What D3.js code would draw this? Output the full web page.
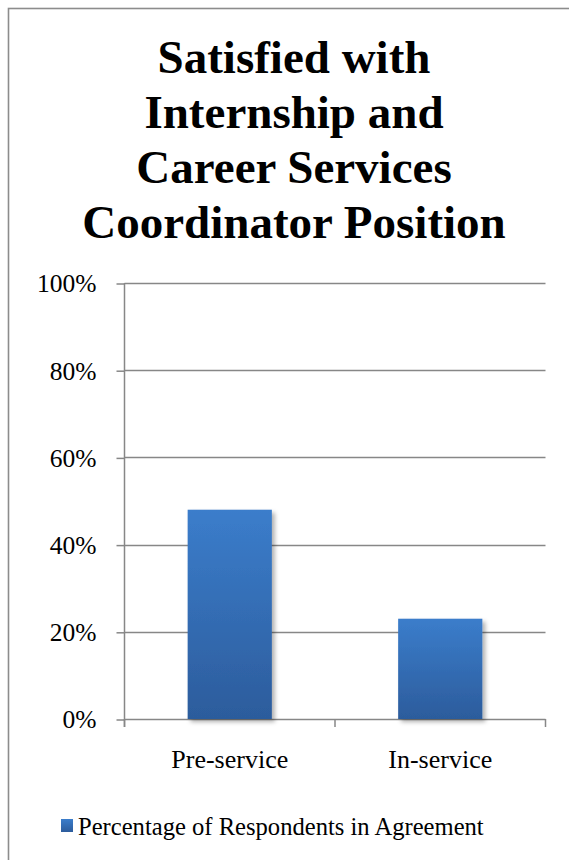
<!DOCTYPE html>
<html>
<head>
<meta charset="utf-8">
<script src="https://cdn.jsdelivr.net/npm/d3@7/dist/d3.min.js"></script>
<style>
  html, body { margin: 0; padding: 0; background: #fff; }
  svg { display: block; }
  text { font-family: "Liberation Serif", "Times New Roman", serif; fill: #000; }
</style>
</head>
<body>
<svg id="chart" width="569" height="860"></svg>
<script>
// Chart data
const titleLines = ["Satisfied with", "Internship and", "Career Services", "Coordinator Position"];
const categories = ["Pre-service", "In-service"];
const agreement = [0.48, 0.23];
const yTicks = [0, 0.2, 0.4, 0.6, 0.8, 1.0];
const seriesName = "Percentage of Respondents in Agreement";

const svg = d3.select("#chart");
const W = 569, H = 860;

// Chart frame (open on the right and bottom)
svg.append("rect")
  .attr("x", 8.5).attr("y", 8.5)
  .attr("width", W + 10).attr("height", H + 10)
  .attr("fill", "#fff")
  .attr("stroke", "#8c8c8c")
  .attr("stroke-width", 1.6);

// Definitions: bar gradient and soft shadow
const defs = svg.append("defs");
const grad = defs.append("linearGradient")
  .attr("id", "barGrad").attr("x1", 0).attr("y1", 0).attr("x2", 0).attr("y2", 1);
grad.append("stop").attr("offset", "0%").attr("stop-color", "#3b7dcb");
grad.append("stop").attr("offset", "100%").attr("stop-color", "#2c5c9c");

const shadow = defs.append("filter").attr("id", "barShadow")
  .attr("x", "-20%").attr("y", "-10%").attr("width", "150%").attr("height", "130%");
shadow.append("feDropShadow")
  .attr("dx", 3).attr("dy", 3).attr("stdDeviation", 2.2)
  .attr("flood-color", "#000").attr("flood-opacity", 0.3);

// Title
svg.append("g")
  .selectAll("text")
  .data(titleLines)
  .join("text")
  .attr("x", 294)
  .attr("y", (d, i) => 73 + i * 55)
  .attr("text-anchor", "middle")
  .attr("font-weight", "bold")
  .attr("font-size", 47)
  .text(d => d);

// Scales
const plotLeft = 124.5, plotRight = 545.5;
const y = d3.scaleLinear().domain([0, 1]).range([719, 283]);
const x = d3.scaleBand().domain(categories).range([plotLeft, plotRight])
  .paddingInner(0.6).paddingOuter(0.3);

const gridColor = "#878787";

// Horizontal gridlines
svg.append("g")
  .selectAll("line")
  .data(yTicks)
  .join("line")
  .attr("x1", plotLeft).attr("x2", plotRight)
  .attr("y1", d => Math.round(y(d)) + 0.5).attr("y2", d => Math.round(y(d)) + 0.5)
  .attr("stroke", gridColor).attr("stroke-width", 1.5);

// Y axis
const yAxis = svg.append("g")
  .attr("transform", `translate(${plotLeft},0)`)
  .call(d3.axisLeft(y).tickValues(yTicks).tickFormat(d3.format(".0%")).tickSize(8).tickPadding(20));
yAxis.select(".domain").remove();
yAxis.selectAll(".tick line")
  .attr("stroke", gridColor).attr("stroke-width", 1.5)
  .attr("transform", "translate(0,0.5)");
yAxis.selectAll(".tick text")
  .attr("font-size", 25.5)
  .attr("font-family", "'Liberation Serif', 'Times New Roman', serif")
  .attr("fill", "#000")
  .attr("dy", "0.35em")
  .attr("x", -28);
svg.append("line")
  .attr("x1", plotLeft).attr("x2", plotLeft)
  .attr("y1", y(1)).attr("y2", y(0) + 8)
  .attr("stroke", gridColor).attr("stroke-width", 1.5);

// Category boundary ticks below the baseline
const boundaries = [plotLeft, (plotLeft + plotRight) / 2, plotRight];
svg.append("g")
  .selectAll("line")
  .data(boundaries)
  .join("line")
  .attr("x1", d => d).attr("x2", d => d)
  .attr("y1", y(0)).attr("y2", y(0) + 8)
  .attr("stroke", gridColor).attr("stroke-width", 1.5);

// Bars
svg.append("g")
  .selectAll("rect")
  .data(categories.map((c, i) => ({ c, v: agreement[i] })))
  .join("rect")
  .attr("x", d => x(d.c))
  .attr("y", d => y(d.v))
  .attr("width", x.bandwidth())
  .attr("height", d => y(0) - y(d.v))
  .attr("fill", "url(#barGrad)")
  .attr("filter", "url(#barShadow)");

// Category labels
svg.append("g")
  .selectAll("text")
  .data(categories)
  .join("text")
  .attr("x", d => x(d) + x.bandwidth() / 2)
  .attr("y", 768)
  .attr("text-anchor", "middle")
  .attr("font-size", 26)
  .text(d => d);

// Legend
const legend = svg.append("g").attr("transform", "translate(61,819)");
legend.append("rect")
  .attr("width", 12).attr("height", 13)
  .attr("fill", "url(#barGrad)");
legend.append("text")
  .attr("x", 17).attr("y", 16)
  .attr("font-size", 24.6)
  .text(seriesName);
</script>
</body>
</html>
